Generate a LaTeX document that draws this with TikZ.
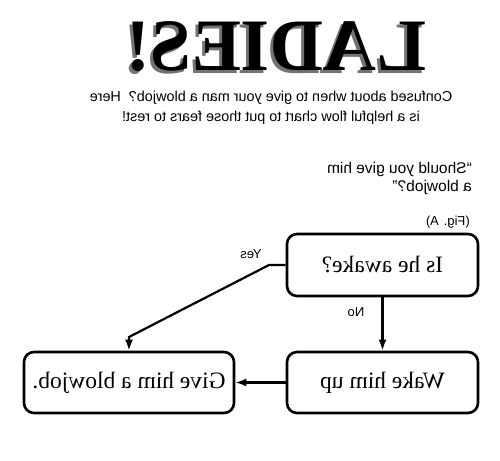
\documentclass[tikz,border=0pt]{standalone}
\usepackage{fontspec}
\setmainfont{Liberation Serif}
\newfontfamily\sansf{Liberation Sans}
\usetikzlibrary{arrows.meta}
\begin{document}
\begin{tikzpicture}[x=1pt,y=-1pt,xscale=-1,transform shape,
  box/.style={draw,line width=2.6pt,rounded corners=10pt,inner sep=0pt,
    font=\fontsize{23.5}{26}\selectfont},
  conn/.style={line width=2.2pt,-{Latex[length=11pt,width=8pt]}},
  lbl/.style={font=\sansf\fontsize{13}{15}\selectfont,inner sep=0pt}]
\fill[white] (0,0) rectangle (500,460);
\useasboundingbox (0,0) rectangle (500,460);
% title
\node[font=\bfseries\fontsize{74}{80}\selectfont,text=black!55] (titleshadow) at (227,50) {LADIES!};
\node[font=\bfseries\fontsize{74}{80}\selectfont] (title) at (224,47) {LADIES!};
% intro
\node[align=center,inner sep=0pt,font=\sansf\fontsize{14.4}{20}\selectfont] (intro) at (229,108)
  {Confused about when to give your man a blowjob?\ \ Here\\is a helpful flow chart to put those fears to rest!};
\node[anchor=west,align=left,inner sep=0pt,font=\sansf\fontsize{15.5}{18}\selectfont] (question) at (28,178)
  {“Should you give him\\a blowjob?”};
\node[anchor=west,inner sep=0pt,font=\sansf\fontsize{13}{15}\selectfont] (fig) at (30,222) {(Fig. A)};
% boxes
\node[box,minimum width=191pt,minimum height=62pt] (awake) at (117.5,265) {Is he awake?};
\node[box,minimum width=191pt,minimum height=61pt] (wake) at (117.5,382.5) {Wake him up};
\node[box,minimum width=210pt,minimum height=61pt] (give) at (371,382.5) {Give him a blowjob.};
% connectors
\coordinate (ybend) at (231,265);
\coordinate (ydiag) at (371,337);
\draw[conn] (awake.east) -- (ybend) -- (ydiag) -- (give.north);
\draw[conn] (awake.south) -- (wake.north);
\draw[conn] (wake.east) -- (give.west);
\node[lbl] (yes) at (249,254) {Yes};
\node[lbl] (no) at (144,312) {No};
\end{tikzpicture}
\end{document}
